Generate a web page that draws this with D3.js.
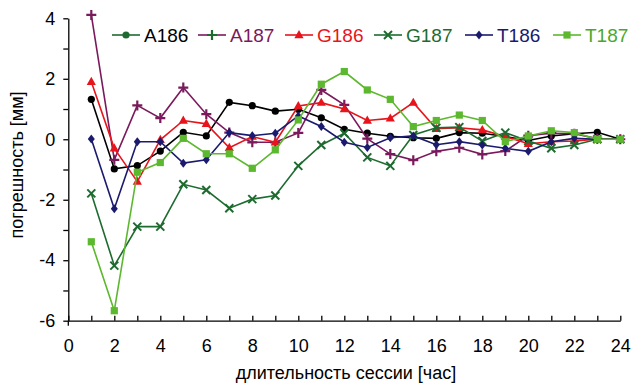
<!DOCTYPE html>
<html><head><meta charset="utf-8">
<script src="https://cdn.jsdelivr.net/npm/d3@7"></script>
<style>body{margin:0;background:#fff}svg{display:block}text{font-family:"Liberation Sans",Arial,sans-serif}</style>
</head><body><svg id="c" width="642" height="385"></svg>
<script>
const hours = d3.range(1, 25);
const A186 = [1.32,-0.98,-0.87,-0.39,0.23,0.11,1.22,1.11,0.93,0.99,0.71,0.33,0.2,0.1,0.05,0.03,0.22,0.2,0.09,-0.04,0.11,0.18,0.23,0];
const A187 = [4.11,-0.68,1.12,0.7,1.71,0.83,0.22,-0.1,-0.1,0.21,1.63,1.14,0.02,-0.49,-0.69,-0.4,-0.28,-0.5,-0.39,0.12,0.2,0.18,0.02,0];
const G186 = [1.9,-0.3,-1.4,-0.02,0.62,0.51,-0.28,0.09,-0.1,1.1,1.21,1.0,0.62,0.69,1.21,0.35,0.38,0.31,0.09,-0.15,-0.08,-0.06,0,0];
const G187 = [-1.79,-4.18,-2.89,-2.89,-1.49,-1.68,-2.28,-1.98,-1.86,-0.88,-0.19,0.2,-0.6,-0.88,0.14,0.38,0.4,-0.06,0.22,-0.06,-0.3,-0.19,0,0];
const T186 = [0.01,-2.3,-0.08,-0.08,-0.79,-0.68,0.22,0.12,0.2,0.77,0.42,-0.1,-0.27,0.05,0.11,-0.18,-0.08,-0.19,-0.3,-0.4,-0.08,0.03,0,0];
const T187 = [-3.39,-5.67,-1.09,-0.77,0.03,-0.48,-0.48,-0.96,-0.35,0.64,1.82,2.24,1.63,1.32,0.42,0.62,0.8,0.62,-0.08,0.11,0.28,0.22,0,0];
const xTicks = [0,2,4,6,8,10,12,14,16,18,20,22,24];
const yTicks = [-6,-4,-2,0,2,4];
const seriesNames = ["A186","A187","G186","G187","T186","T187"];

const series = [
  {name:"A186", values:A186, color:"#000000", marker:"circle", legLine:"#1e6b30", legMark:"#1e6b30", legText:"#000000"},
  {name:"A187", values:A187, color:"#7a1a5c", marker:"plus", legLine:"#7a1a5c", legMark:"#1e6b30", legText:"#7a1a5c"},
  {name:"G186", values:G186, color:"#e8141c", marker:"triangle", legLine:"#e8141c", legMark:"#e8141c", legText:"#e8141c"},
  {name:"G187", values:G187, color:"#1e6b30", marker:"cross", legLine:"#1e6b30", legMark:"#1e6b30", legText:"#1e6b30"},
  {name:"T186", values:T186, color:"#1a1a6e", marker:"diamond", legLine:"#1a1a6e", legMark:"#1a1a6e", legText:"#1a1a6e"},
  {name:"T187", values:T187, color:"#5cb82e", marker:"square", legLine:"#5cb82e", legMark:"#5cb82e", legText:"#4aa82a"}
];

const svg = d3.select("#c");
const x = d3.scaleLinear().domain([0,24]).range([68.3,620.3]);
const y = d3.scaleLinear().domain([-6,4]).range([320.7,18.3]);

// axes
const gx = svg.append("g").attr("transform",`translate(0,${y(-6)})`)
  .call(d3.axisBottom(x).tickValues(d3.range(0,25,1)).tickSizeInner(-5).tickSizeOuter(0).tickFormat(d=> xTicks.includes(d)? d : ""));
gx.selectAll("text").attr("y",19).attr("font-size",18).attr("fill","#000").attr("font-family","Liberation Sans, Arial");
gx.select(".domain").attr("stroke","#000").attr("stroke-width",1.3);
gx.selectAll(".tick line").attr("stroke","#000").attr("stroke-width",1.3);

const gy = svg.append("g").attr("transform",`translate(${x(0)},0)`)
  .call(d3.axisLeft(y).tickValues(d3.range(-6,5,1)).tickSize(5).tickSizeOuter(0).tickFormat(d=> yTicks.includes(d)? d : ""));
gy.selectAll("text").attr("x",-13).attr("font-size",18).attr("fill","#000").attr("font-family","Liberation Sans, Arial");
gy.select(".domain").attr("stroke","#000").attr("stroke-width",1.3);
gy.selectAll(".tick line").attr("stroke","#000").attr("stroke-width",1.3);
svg.append("line").attr("x1",x(0)).attr("x2",x(0)).attr("y1",y(-6)).attr("y2",y(-6)+5).attr("stroke","#000").attr("stroke-width",1.3);

svg.append("text").attr("x",346).attr("y",379).attr("text-anchor","middle").attr("font-size",18).text("длительность сессии [час]");
svg.append("text").attr("transform",`translate(23,${165}) rotate(-90)`).attr("text-anchor","middle").attr("font-size",18).text("погрешность [мм]");

function drawMarker(g, type, color, cx, cy){
  if(type==="circle") g.append("circle").attr("cx",cx).attr("cy",cy).attr("r",3.6).attr("fill",color);
  else if(type==="plus") g.append("path").attr("d",`M${cx-5},${cy}H${cx+5}M${cx},${cy-5}V${cy+5}`).attr("stroke",color).attr("stroke-width",2.2);
  else if(type==="triangle") g.append("path").attr("d",`M${cx},${cy-5}L${cx+4.6},${cy+3.2}L${cx-4.6},${cy+3.2}Z`).attr("fill",color);
  else if(type==="cross") g.append("path").attr("d",`M${cx-4},${cy-4}L${cx+4},${cy+4}M${cx-4},${cy+4}L${cx+4},${cy-4}`).attr("stroke",color).attr("stroke-width",2);
  else if(type==="diamond") g.append("path").attr("d",`M${cx},${cy-4.5}L${cx+3.5},${cy}L${cx},${cy+4.5}L${cx-3.5},${cy}Z`).attr("fill",color);
  else if(type==="square") g.append("rect").attr("x",cx-3.6).attr("y",cy-3.6).attr("width",7.2).attr("height",7.2).attr("fill",color);
}

const line = d3.line().x((d,i)=>x(hours[i])).y(d=>y(d));
series.forEach(s=>{
  const g = svg.append("g");
  g.append("path").attr("d",line(s.values)).attr("fill","none").attr("stroke",s.color).attr("stroke-width",1.6);
  s.values.forEach((v,i)=>drawMarker(g, s.marker, s.color, x(hours[i]), y(v)));
});

// legend
const legX = [112,198,285,374,465,553];
const legY = 35;
series.forEach((s,i)=>{
  const g = svg.append("g");
  g.append("line").attr("x1",legX[i]).attr("x2",legX[i]+28).attr("y1",legY).attr("y2",legY).attr("stroke",s.legLine).attr("stroke-width",1.6);
  drawMarker(g, s.marker, s.legMark, legX[i]+14, legY);
  g.append("text").attr("x",legX[i]+32).attr("y",legY+7).attr("font-size",19).attr("fill",s.legText).text(seriesNames[i]);
});
</script></body></html>
